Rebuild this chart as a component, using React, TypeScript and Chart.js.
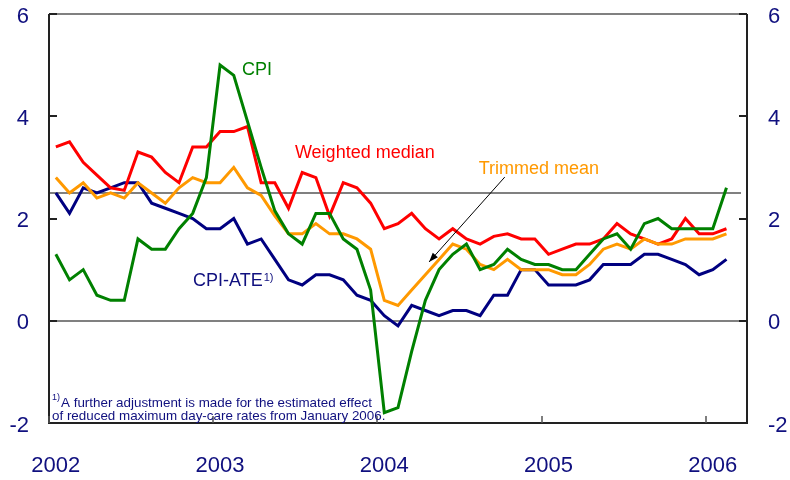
import React, { useEffect, useRef } from "react";
import { Chart, registerables } from "chart.js";

Chart.register(...registerables);

// Monthly values, Jan 2002 .. Feb 2006
const cpi = [1.3, 0.8, 1.0, 0.5, 0.4, 0.4, 1.6, 1.4, 1.4, 1.8, 2.1, 2.8, 5.0, 4.8, 3.9, 3.0, 2.15, 1.7, 1.5, 2.1, 2.1, 1.6, 1.4, 0.6, -1.8, -1.7, -0.6, 0.4, 1.0, 1.3, 1.5, 1.0, 1.1, 1.4, 1.2, 1.1, 1.1, 1.0, 1.0, 1.3, 1.6, 1.7, 1.4, 1.9, 2.0, 1.8, 1.8, 1.8, 1.8, 2.6];
const cpiAte = [2.5, 2.1, 2.6, 2.5, 2.6, 2.7, 2.7, 2.3, 2.2, 2.1, 2.0, 1.8, 1.8, 2.0, 1.5, 1.6, 1.2, 0.8, 0.7, 0.9, 0.9, 0.8, 0.5, 0.4, 0.1, -0.1, 0.3, 0.2, 0.1, 0.2, 0.2, 0.1, 0.5, 0.5, 1.0, 1.0, 0.7, 0.7, 0.7, 0.8, 1.1, 1.1, 1.1, 1.3, 1.3, 1.2, 1.1, 0.9, 1.0, 1.2];
const weightedMedian = [3.4, 3.5, 3.1, 2.85, 2.6, 2.55, 3.3, 3.2, 2.9, 2.7, 3.4, 3.4, 3.7, 3.7, 3.8, 2.7, 2.7, 2.2, 2.9, 2.8, 2.05, 2.7, 2.6, 2.3, 1.8, 1.9, 2.1, 1.8, 1.6, 1.8, 1.6, 1.5, 1.65, 1.7, 1.6, 1.6, 1.3, 1.4, 1.5, 1.5, 1.6, 1.9, 1.7, 1.6, 1.5, 1.6, 2.0, 1.7, 1.7, 1.8];
const trimmedMean = [2.8, 2.5, 2.7, 2.4, 2.5, 2.4, 2.7, 2.5, 2.3, 2.6, 2.8, 2.7, 2.7, 3.0, 2.6, 2.45, 2.05, 1.7, 1.7, 1.9, 1.7, 1.7, 1.6, 1.4, 0.4, 0.3, 0.6, 0.9, 1.2, 1.5, 1.4, 1.1, 1.0, 1.2, 1.0, 1.0, 1.0, 0.9, 0.9, 1.1, 1.4, 1.5, 1.4, 1.6, 1.5, 1.5, 1.6, 1.6, 1.6, 1.7];

const yearLabels = ["2002", "2003", "2004", "2005", "2006"];
const yTickValues = [-2, 0, 2, 4, 6];
const inflationTarget = 2.5;
const monthsShown = 51;

const NAVY = "#10107f";
const FONT = "'Liberation Sans', Arial, sans-serif";

const toPoints = (arr: number[]) => arr.map((v, i) => ({ x: i + 0.5, y: v }));

const framePlugin = {
  id: "framePlugin",
  beforeDatasetsDraw(chart: any) {
    const { ctx, chartArea: a, scales } = chart;
    const ys = scales.y;
    ctx.save();
    ctx.strokeStyle = "#808080";
    ctx.lineWidth = 2;
    for (const v of [0, inflationTarget]) {
      const y = Math.round(ys.getPixelForValue(v));
      ctx.beginPath();
      ctx.moveTo(a.left, y);
      ctx.lineTo(a.right - 6, y);
      ctx.stroke();
    }
    ctx.beginPath();
    ctx.moveTo(a.left, a.top);
    ctx.lineTo(a.right, a.top);
    ctx.stroke();
    ctx.restore();
  },
  afterDatasetsDraw(chart: any) {
    const { ctx, chartArea: a, scales } = chart;
    const xs = scales.x;
    const ys = scales.y;
    ctx.save();
    ctx.strokeStyle = "#222";
    ctx.lineWidth = 2;
    ctx.beginPath();
    ctx.moveTo(a.left, a.top);
    ctx.lineTo(a.left, a.bottom);
    ctx.lineTo(a.right, a.bottom);
    ctx.lineTo(a.right, a.top);
    ctx.stroke();
    for (const v of yTickValues) {
      const y = Math.round(ys.getPixelForValue(v));
      ctx.beginPath();
      ctx.moveTo(a.left, y);
      ctx.lineTo(a.left + 8, y);
      ctx.moveTo(a.right, y);
      ctx.lineTo(a.right - 8, y);
      ctx.stroke();
    }
    ctx.strokeStyle = "#555";
    ctx.lineWidth = 1.5;
    yearLabels.forEach((_, k) => {
      const x = Math.round(xs.getPixelForValue(k * 12));
      ctx.beginPath();
      ctx.moveTo(x, a.bottom);
      ctx.lineTo(x, a.bottom - 7);
      ctx.stroke();
    });
    ctx.fillStyle = NAVY;
    ctx.font = `22px ${FONT}`;
    ctx.textBaseline = "middle";
    for (const v of yTickValues) {
      const y = ys.getPixelForValue(v) + 2.5;
      ctx.textAlign = "right";
      ctx.fillText(String(v), a.left - 20, y);
      ctx.textAlign = "left";
      ctx.fillText(String(v), a.right + 21, y);
    }
    ctx.textAlign = "center";
    ctx.textBaseline = "alphabetic";
    yearLabels.forEach((lab, k) => {
      ctx.fillText(lab, xs.getPixelForValue(k * 12 + 0.5), 472);
    });

    ctx.font = `18px ${FONT}`;
    ctx.textAlign = "left";
    ctx.fillStyle = "#008000";
    ctx.fillText("CPI", xs.getPixelForValue(14.1), ys.getPixelForValue(4.8));
    ctx.fillStyle = "#ff0000";
    ctx.fillText("Weighted median", xs.getPixelForValue(17.97), ys.getPixelForValue(3.18));
    ctx.fillStyle = "#ff9900";
    ctx.fillText("Trimmed mean", xs.getPixelForValue(31.4), ys.getPixelForValue(2.87));
    ctx.fillStyle = NAVY;
    const ax = xs.getPixelForValue(10.52);
    const ay = ys.getPixelForValue(0.68);
    ctx.fillText("CPI-ATE", ax, ay);
    const w = ctx.measureText("CPI-ATE").width;
    ctx.font = `11px ${FONT}`;
    ctx.fillText("1)", ax + w + 1, ay - 5);

    const fx = xs.getPixelForValue(0.22);
    ctx.font = `9px ${FONT}`;
    ctx.fillText("1)", fx, ys.getPixelForValue(-1.55));
    const sw = ctx.measureText("1)").width;
    ctx.font = `13.4px ${FONT}`;
    ctx.fillText("A further adjustment is made for the estimated effect", fx + sw + 1, ys.getPixelForValue(-1.68));
    ctx.fillText("of reduced maximum day-care rates from January 2006.", fx, ys.getPixelForValue(-1.95));

    const x1 = xs.getPixelForValue(33.3), y1 = ys.getPixelForValue(2.81);
    const x2 = xs.getPixelForValue(27.77), y2 = ys.getPixelForValue(1.15);
    ctx.strokeStyle = "#000";
    ctx.fillStyle = "#000";
    ctx.lineWidth = 1;
    ctx.beginPath();
    ctx.moveTo(x1, y1);
    ctx.lineTo(x2, y2);
    ctx.stroke();
    const ang = Math.atan2(y2 - y1, x2 - x1);
    const L = 10, W = 0.35;
    ctx.beginPath();
    ctx.moveTo(x2, y2);
    ctx.lineTo(x2 - L * Math.cos(ang - W), y2 - L * Math.sin(ang - W));
    ctx.lineTo(x2 - L * Math.cos(ang + W), y2 - L * Math.sin(ang + W));
    ctx.closePath();
    ctx.fill();
    ctx.restore();
  },
};

export default function App() {
  const ref = useRef<HTMLCanvasElement | null>(null);
  useEffect(() => {
    if (!ref.current) return;
    const mk = (data: number[], color: string, order: number) => ({
      data: toPoints(data),
      borderColor: color,
      backgroundColor: color,
      borderWidth: 3,
      pointRadius: 0,
      tension: 0,
      order,
    });
    const chart = new Chart(ref.current, {
      type: "line",
      data: {
        datasets: [
          mk(cpi, "#008000", 0),
          mk(trimmedMean, "#ff9900", 1),
          mk(weightedMedian, "#ff0000", 2),
          mk(cpiAte, "#000080", 3),
        ] as any,
      },
      options: {
        animation: false,
        responsive: false,
        maintainAspectRatio: false,
        devicePixelRatio: 1,
        layout: { padding: { left: 49, right: 43, top: 14, bottom: 57 } },
        plugins: { legend: { display: false }, tooltip: { enabled: false } },
        scales: {
          x: { type: "linear", min: 0, max: monthsShown, display: false },
          y: { type: "linear", min: -2, max: 6, display: false },
        },
      },
      plugins: [framePlugin],
    });
    return () => chart.destroy();
  }, []);
  return (
    <div style={{ position: "fixed", left: 0, top: 0, width: 790, height: 480, background: "#fff" }}>
      <canvas ref={ref} width={790} height={480} />
    </div>
  );
}
